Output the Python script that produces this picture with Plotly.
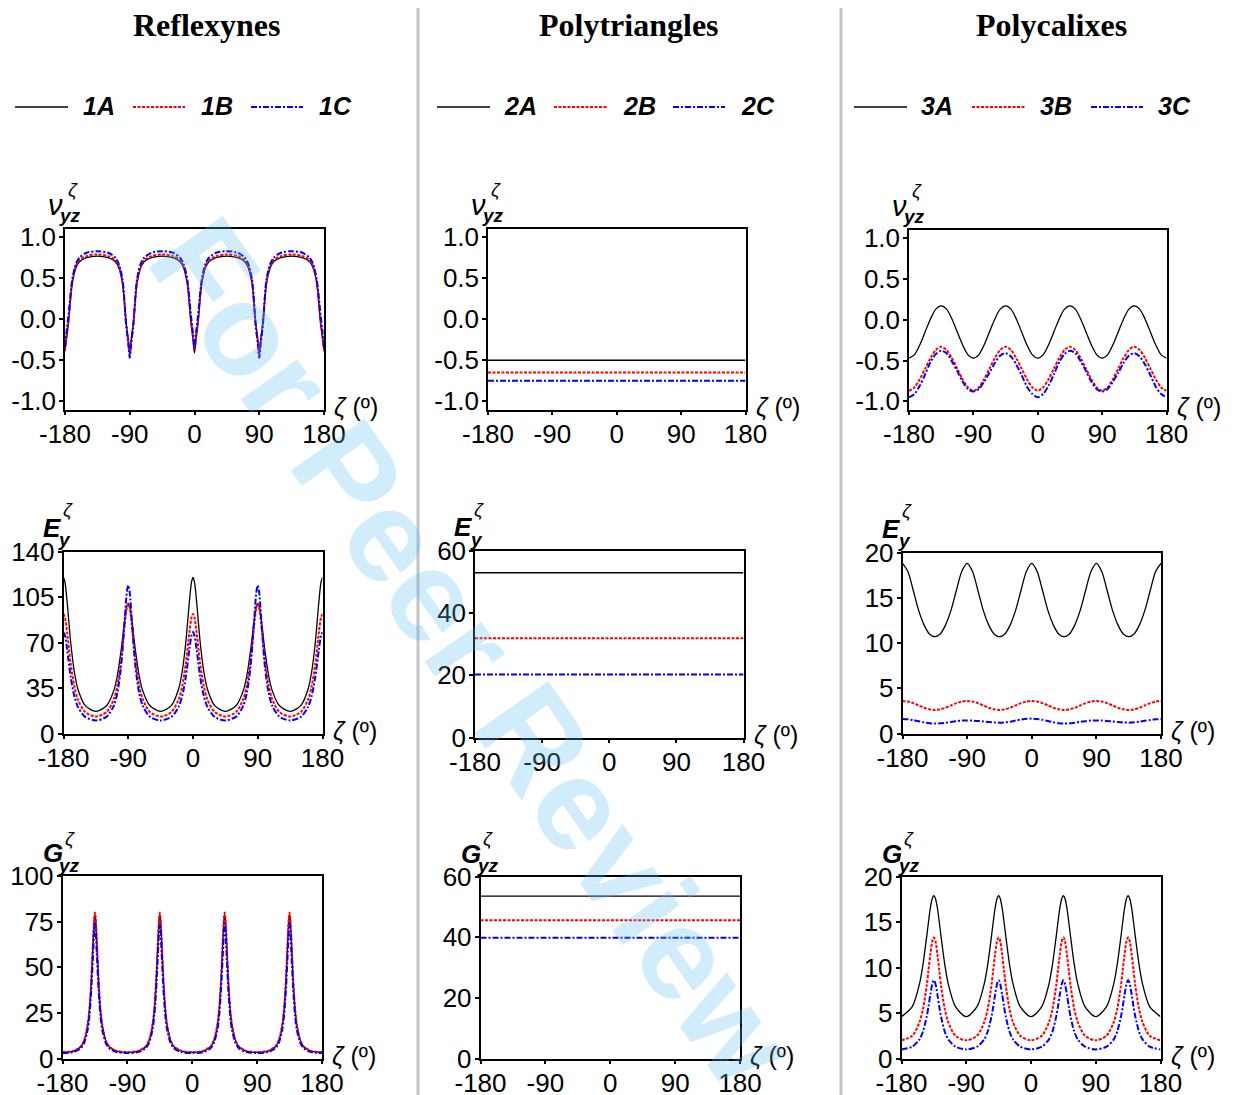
import plotly.graph_objects as go

W, H = 1236, 1095
OFF = 8  # browser body margin

# ---------------- data ----------------
ZETA_A = [-180, -178, -175, -170, -165, -160, -150, -135, -120, -110, -105, -100, -95, -92,
          -90, -88, -85, -80, -75, -70, -60, -45, -30, -20, -15, -10, -5, -2,
          0, 2, 5, 10, 15, 20, 30, 45, 60, 70, 75, 80, 85, 88,
          90, 92, 95, 100, 105, 110, 120, 135, 150, 160, 165, 170, 175, 178, 180]

ZETA_B = [-180, -165, -155, -150, -145, -142.5, -140, -137.5, -136, -135, -134, -132.5, -130, -127.5, -125, -120, -115, -105,
          -90, -75, -65, -60, -55, -52.5, -50, -47.5, -46, -45, -44, -42.5, -40, -37.5, -35, -30, -25, -15,
          0, 15, 25, 30, 35, 37.5, 40, 42.5, 44, 45, 46, 47.5, 50, 52.5, 55, 60, 65, 75,
          90, 105, 115, 120, 125, 127.5, 130, 132.5, 134, 135, 136, 137.5, 140, 142.5, 145, 150, 155, 165, 180]

ZETA_C = [-180, -172.5, -165, -157.5, -150, -142.5, -135, -127.5, -120, -112.5, -105, -97.5,
          -90, -82.5, -75, -67.5, -60, -52.5, -45, -37.5, -30, -22.5, -15, -7.5,
          0, 7.5, 15, 22.5, 30, 37.5, 45, 52.5, 60, 67.5, 75, 82.5,
          90, 97.5, 105, 112.5, 120, 127.5, 135, 142.5, 150, 157.5, 165, 172.5, 180]

ZETA_M = [-180, 180]

X_TICKS = [-180, -90, 0, 90, 180]
X_TICK_TEXT = ["-180", "-90", "0", "90", "180"]

COLUMN_TITLES = ["Reflexynes", "Polytriangles", "Polycalixes"]
SERIES_NAMES = [["1A", "1B", "1C"], ["2A", "2B", "2C"], ["3A", "3B", "3C"]]

# Reflexynes
V_1A = [-0.39, -0.24, -0.03, 0.43, 0.62, 0.70, 0.75, 0.77, 0.75, 0.70, 0.62, 0.43, -0.04, -0.25,
        -0.41, -0.25, -0.04, 0.43, 0.62, 0.70, 0.75, 0.77, 0.75, 0.70, 0.62, 0.43, -0.04, -0.25,
        -0.41, -0.25, -0.04, 0.43, 0.62, 0.70, 0.75, 0.77, 0.75, 0.70, 0.62, 0.43, -0.04, -0.25,
        -0.41, -0.25, -0.04, 0.43, 0.62, 0.70, 0.75, 0.77, 0.75, 0.70, 0.62, 0.43, -0.03, -0.24, -0.39]
V_1B = [-0.38, -0.22, -0.01, 0.45, 0.64, 0.72, 0.77, 0.79, 0.77, 0.72, 0.64, 0.45, -0.06, -0.27,
        -0.43, -0.27, -0.06, 0.45, 0.64, 0.72, 0.77, 0.79, 0.77, 0.72, 0.64, 0.45, -0.01, -0.22,
        -0.38, -0.22, -0.01, 0.45, 0.64, 0.72, 0.77, 0.79, 0.77, 0.72, 0.64, 0.45, -0.06, -0.27,
        -0.43, -0.27, -0.06, 0.45, 0.64, 0.72, 0.77, 0.79, 0.77, 0.72, 0.64, 0.45, -0.01, -0.22, -0.38]
V_1C = [-0.33, -0.16, 0.07, 0.48, 0.67, 0.75, 0.81, 0.83, 0.81, 0.75, 0.67, 0.48, -0.07, -0.30,
        -0.47, -0.30, -0.07, 0.48, 0.67, 0.75, 0.81, 0.83, 0.81, 0.75, 0.67, 0.48, 0.05, -0.18,
        -0.35, -0.18, 0.05, 0.48, 0.67, 0.75, 0.81, 0.83, 0.81, 0.75, 0.67, 0.48, -0.07, -0.30,
        -0.47, -0.30, -0.07, 0.48, 0.67, 0.75, 0.81, 0.83, 0.81, 0.75, 0.67, 0.48, 0.07, -0.16, -0.33]

E_1A = [120, 116.6, 101.5, 70.2, 47.7, 34.2, 21.6, 17.0, 21.5, 33.2, 45.0, 63.7, 87.2, 97.7,
        100, 97.7, 87.2, 63.7, 45.0, 33.2, 21.5, 17.0, 21.6, 34.2, 47.7, 70.2, 101.5, 116.6,
        120, 116.6, 101.5, 70.2, 47.7, 34.2, 21.6, 17.0, 21.5, 33.2, 45.0, 63.7, 87.2, 97.7,
        100, 97.7, 87.2, 63.7, 45.0, 33.2, 21.5, 17.0, 21.6, 34.2, 47.7, 70.2, 101.5, 116.6, 120]
E_1B = [92, 89.4, 77.8, 53.8, 36.5, 26.2, 16.6, 13.0, 16.6, 26.6, 37.4, 56.1, 83.2, 96.8,
        100, 96.8, 83.2, 56.1, 37.4, 26.6, 16.6, 13.0, 16.6, 26.2, 36.5, 53.8, 77.8, 89.4,
        92, 89.4, 77.8, 53.8, 36.5, 26.2, 16.6, 13.0, 16.6, 26.6, 37.4, 56.1, 83.2, 96.8,
        100, 96.8, 83.2, 56.1, 37.4, 26.6, 16.6, 13.0, 16.6, 26.2, 36.5, 53.8, 77.8, 89.4, 92]
E_1C = [78, 75.5, 64.7, 43.4, 28.9, 20.5, 12.8, 10.0, 13.0, 21.5, 31.7, 51.4, 86.8, 108.5,
        114, 108.5, 86.8, 51.4, 31.7, 21.5, 13.0, 10.0, 12.8, 20.5, 28.9, 43.4, 64.7, 75.5,
        78, 75.5, 64.7, 43.4, 28.9, 20.5, 12.8, 10.0, 13.0, 21.5, 31.7, 51.4, 86.8, 108.5,
        114, 108.5, 86.8, 51.4, 31.7, 21.5, 13.0, 10.0, 12.8, 20.5, 28.9, 43.4, 64.7, 75.5, 78]

G_1A = [3.4, 4.1, 6.3, 9.8, 18.5, 27.5, 43, 65, 76, 79, 76, 65, 43, 27.5, 18.5, 9.8, 6.3, 4.1,
        3.4, 4.1, 6.3, 9.8, 18.5, 27.5, 43, 65, 76, 79, 76, 65, 43, 27.5, 18.5, 9.8, 6.3, 4.1,
        3.4, 4.1, 6.3, 9.8, 18.5, 27.5, 43, 65, 76, 79, 76, 65, 43, 27.5, 18.5, 9.8, 6.3, 4.1,
        3.4, 4.1, 6.3, 9.8, 18.5, 27.5, 43, 65, 76, 79, 76, 65, 43, 27.5, 18.5, 9.8, 6.3, 4.1, 3.4]
G_1B = [3.5, 4.2, 6.5, 10, 19, 28, 44, 66, 77, 80, 77, 66, 44, 28, 19, 10, 6.5, 4.2,
        3.5, 4.2, 6.5, 10, 19, 28, 44, 66, 77, 80, 77, 66, 44, 28, 19, 10, 6.5, 4.2,
        3.5, 4.2, 6.5, 10, 19, 28, 44, 66, 77, 80, 77, 66, 44, 28, 19, 10, 6.5, 4.2,
        3.5, 4.2, 6.5, 10, 19, 28, 44, 66, 77, 80, 77, 66, 44, 28, 19, 10, 6.5, 4.2, 3.5]
G_1C = [3.0, 3.5, 5.5, 8.5, 16, 24, 38, 58, 70, 74, 70, 58, 38, 24, 16, 8.5, 5.5, 3.5,
        3.0, 3.5, 5.5, 8.5, 16, 24, 38, 58, 70, 74, 70, 58, 38, 24, 16, 8.5, 5.5, 3.5,
        3.0, 3.5, 5.5, 8.5, 16, 24, 38, 58, 70, 74, 70, 58, 38, 24, 16, 8.5, 5.5, 3.5,
        3.0, 3.5, 5.5, 8.5, 16, 24, 38, 58, 70, 74, 70, 58, 38, 24, 16, 8.5, 5.5, 3.5, 3.0]

# Polytriangles (flat)
V_2A = [-0.50, -0.50]
V_2B = [-0.65, -0.65]
V_2C = [-0.75, -0.75]
E_2A = [53.0, 53.0]
E_2B = [31.9, 31.9]
E_2C = [20.3, 20.3]
G_2A = [53.5, 53.5]
G_2B = [45.6, 45.6]
G_2C = [39.8, 39.8]

# Polycalixes
V_3A = [-0.47, -0.43, -0.31, -0.15, 0.01, 0.13, 0.17, 0.13, 0.01, -0.15, -0.31, -0.43,
        -0.47, -0.43, -0.31, -0.15, 0.01, 0.13, 0.17, 0.13, 0.01, -0.15, -0.31, -0.43,
        -0.47, -0.43, -0.31, -0.15, 0.01, 0.13, 0.17, 0.13, 0.01, -0.15, -0.31, -0.43,
        -0.47, -0.43, -0.31, -0.15, 0.01, 0.13, 0.17, 0.13, 0.01, -0.15, -0.31, -0.43, -0.47]
V_3B = [-0.87, -0.83, -0.73, -0.60, -0.47, -0.37, -0.33, -0.37, -0.47, -0.60, -0.73, -0.83,
        -0.87, -0.83, -0.73, -0.60, -0.47, -0.37, -0.33, -0.37, -0.47, -0.60, -0.73, -0.83,
        -0.87, -0.83, -0.73, -0.60, -0.47, -0.37, -0.33, -0.37, -0.47, -0.60, -0.73, -0.83,
        -0.87, -0.83, -0.73, -0.60, -0.47, -0.37, -0.33, -0.37, -0.47, -0.60, -0.73, -0.83, -0.87]
V_3C = [-0.95, -0.91, -0.81, -0.67, -0.52, -0.42, -0.38, -0.41, -0.51, -0.63, -0.76, -0.85,
        -0.88, -0.85, -0.76, -0.65, -0.53, -0.44, -0.41, -0.45, -0.55, -0.68, -0.82, -0.91,
        -0.95, -0.91, -0.81, -0.67, -0.52, -0.42, -0.38, -0.41, -0.51, -0.63, -0.76, -0.85,
        -0.88, -0.85, -0.76, -0.65, -0.53, -0.44, -0.41, -0.45, -0.55, -0.68, -0.82, -0.91, -0.95]

E_3A = [18.8, 17.9, 15.8, 13.6, 12.0, 11.0, 10.7, 11.0, 12.0, 13.6, 15.8, 17.9,
        18.8, 17.9, 15.8, 13.6, 12.0, 11.0, 10.7, 11.0, 12.0, 13.6, 15.8, 17.9,
        18.8, 17.9, 15.8, 13.6, 12.0, 11.0, 10.7, 11.0, 12.0, 13.6, 15.8, 17.9,
        18.8, 17.9, 15.8, 13.6, 12.0, 11.0, 10.7, 11.0, 12.0, 13.6, 15.8, 17.9, 18.8]
E_3B = [3.6, 3.53, 3.35, 3.1, 2.85, 2.67, 2.6, 2.67, 2.85, 3.1, 3.35, 3.53,
        3.6, 3.53, 3.35, 3.1, 2.85, 2.67, 2.6, 2.67, 2.85, 3.1, 3.35, 3.53,
        3.6, 3.53, 3.35, 3.1, 2.85, 2.67, 2.6, 2.67, 2.85, 3.1, 3.35, 3.53,
        3.6, 3.53, 3.35, 3.1, 2.85, 2.67, 2.6, 2.67, 2.85, 3.1, 3.35, 3.53, 3.6]
E_3C = [1.6, 1.57, 1.48, 1.35, 1.23, 1.13, 1.1, 1.12, 1.19, 1.28, 1.36, 1.43,
        1.45, 1.43, 1.39, 1.33, 1.26, 1.22, 1.2, 1.23, 1.31, 1.43, 1.54, 1.62,
        1.65, 1.61, 1.51, 1.38, 1.24, 1.14, 1.1, 1.12, 1.19, 1.28, 1.36, 1.43,
        1.45, 1.43, 1.39, 1.33, 1.26, 1.22, 1.2, 1.23, 1.3, 1.4, 1.5, 1.57, 1.6]

G_3A = [4.6, 5.7, 8.2, 10.4, 13.4, 15.0, 16.5, 17.5, 17.8, 17.9, 17.8, 17.5, 16.5, 15.0, 13.4, 10.4, 8.2, 5.7,
        4.6, 5.7, 8.2, 10.4, 13.4, 15.0, 16.5, 17.5, 17.8, 17.9, 17.8, 17.5, 16.5, 15.0, 13.4, 10.4, 8.2, 5.7,
        4.6, 5.7, 8.2, 10.4, 13.4, 15.0, 16.5, 17.5, 17.8, 17.9, 17.8, 17.5, 16.5, 15.0, 13.4, 10.4, 8.2, 5.7,
        4.6, 5.7, 8.2, 10.4, 13.4, 15.0, 16.5, 17.5, 17.8, 17.9, 17.8, 17.5, 16.5, 15.0, 13.4, 10.4, 8.2, 5.7, 4.6]
G_3B = [2.0, 2.5, 4.0, 5.5, 8.0, 9.7, 11.4, 12.8, 13.2, 13.3, 13.2, 12.8, 11.4, 9.7, 8.0, 5.5, 4.0, 2.5,
        2.0, 2.5, 4.0, 5.5, 8.0, 9.7, 11.4, 12.8, 13.2, 13.3, 13.2, 12.8, 11.4, 9.7, 8.0, 5.5, 4.0, 2.5,
        2.0, 2.5, 4.0, 5.5, 8.0, 9.7, 11.4, 12.8, 13.2, 13.3, 13.2, 12.8, 11.4, 9.7, 8.0, 5.5, 4.0, 2.5,
        2.0, 2.5, 4.0, 5.5, 8.0, 9.7, 11.4, 12.8, 13.2, 13.3, 13.2, 12.8, 11.4, 9.7, 8.0, 5.5, 4.0, 2.5, 2.0]
G_3C = [1.0, 1.3, 2.1, 3.0, 4.6, 5.7, 7.0, 8.1, 8.5, 8.6, 8.5, 8.1, 7.0, 5.7, 4.6, 3.0, 2.1, 1.3,
        1.0, 1.3, 2.1, 3.0, 4.6, 5.7, 7.0, 8.1, 8.5, 8.6, 8.5, 8.1, 7.0, 5.7, 4.6, 3.0, 2.1, 1.3,
        1.0, 1.3, 2.1, 3.0, 4.6, 5.7, 7.0, 8.1, 8.5, 8.6, 8.5, 8.1, 7.0, 5.7, 4.6, 3.0, 2.1, 1.3,
        1.0, 1.3, 2.1, 3.0, 4.6, 5.7, 7.0, 8.1, 8.5, 8.6, 8.5, 8.1, 7.0, 5.7, 4.6, 3.0, 2.1, 1.3, 1.0]

Y_TICKS_V = [-1.0, -0.5, 0.0, 0.5, 1.0]
Y_TEXT_V = ["-1.0", "-0.5", "0.0", "0.5", "1.0"]
Y_TICKS_E1 = [0, 35, 70, 105, 140]
Y_TICKS_G1 = [0, 25, 50, 75, 100]
Y_TICKS_60 = [0, 20, 40, 60]
Y_TICKS_20 = [0, 5, 10, 15, 20]

# ---------------- styling ----------------
FONT = "Arial, 'Liberation Sans', sans-serif"
SERIF = "'Times New Roman', 'Liberation Serif', serif"
STYLES = [dict(color="black", width=1.3, dash="solid"),
          dict(color="#ff0000", width=2.0, dash="3px,1.5px"),
          dict(color="#0000ff", width=2.0, dash="6px,2px,2px,2px")]

# panel boxes in page pixels: left, right, top, bottom
PANELS = [
    dict(box=(65, 324, 229, 409.5), yr=[-1.1, 1.1], yt=Y_TICKS_V, ytt=Y_TEXT_V, kind="V", row=0,
         x=ZETA_A, ys=[V_1A, V_1B, V_1C], shape="spline"),
    dict(box=(63.5, 322.5, 551.5, 733.5), yr=[0, 140], yt=Y_TICKS_E1, ytt=None, kind="E", row=1,
         x=ZETA_A, ys=[E_1A, E_1B, E_1C], shape="spline"),
    dict(box=(62.5, 322, 876, 1058.5), yr=[0, 100], yt=Y_TICKS_G1, ytt=None, kind="G", row=2,
         x=ZETA_B, ys=[G_1A, G_1B, G_1C], shape="spline"),
    dict(box=(488, 745.5, 229, 409.5), yr=[-1.1, 1.1], yt=Y_TICKS_V, ytt=Y_TEXT_V, kind="V", row=0,
         x=ZETA_M, ys=[V_2A, V_2B, V_2C], shape="linear"),
    dict(box=(475, 743.5, 551, 737.5), yr=[0, 60], yt=Y_TICKS_60, ytt=None, kind="E", row=1,
         x=ZETA_M, ys=[E_2A, E_2B, E_2C], shape="linear"),
    dict(box=(480.5, 740, 876.5, 1058.5), yr=[0, 60], yt=Y_TICKS_60, ytt=None, kind="G", row=2,
         x=ZETA_M, ys=[G_2A, G_2B, G_2C], shape="linear"),
    dict(box=(909, 1166.5, 230, 409.5), yr=[-1.1, 1.1], yt=Y_TICKS_V, ytt=Y_TEXT_V, kind="V", row=0,
         x=ZETA_C, ys=[V_3A, V_3B, V_3C], shape="spline"),
    dict(box=(902.5, 1161, 552.5, 733.5), yr=[0, 20], yt=Y_TICKS_20, ytt=None, kind="E", row=1,
         x=ZETA_C, ys=[E_3A, E_3B, E_3C], shape="spline"),
    dict(box=(901.5, 1160.5, 876.5, 1058.5), yr=[0, 20], yt=Y_TICKS_20, ytt=None, kind="G", row=2,
         x=ZETA_B, ys=[G_3A, G_3B, G_3C], shape="spline"),
]

FW, FH = W - OFF, H - OFF

def px(x):
    return (x - OFF) / FW

def py(y):
    return 1 - (y - OFF) / FH

fig = go.Figure()
annotations = []
shapes = []
layout = {}

LABEL_MAIN = {"V": ("<i>ν</i>", 29), "E": ("<b><i>E</i></b>", 26), "G": ("<b><i>G</i></b>", 26)}
LABEL_SUB = {"V": "<b><i>yz</i></b>", "E": "<b><i>y</i></b>", "G": "<b><i>yz</i></b>"}
# offsets (dx main, dy main, dx sub, dy sub, dx sup, dy sup) per row
LABEL_OFF = [(-19, -24, -8, -14, 1, -39),
             (-23, -24, -7, -12, -3, -42),
             (-22, -23, -6, -11, 0, -38)]

for i, p in enumerate(PANELS):
    l, r, t, b = p["box"]
    sfx = "" if i == 0 else str(i + 1)
    layout["xaxis" + sfx] = dict(
        domain=[px(l), px(r)], range=[-180, 180], anchor="y" + sfx, automargin=False,
        tickmode="array", tickvals=X_TICKS, ticktext=X_TICK_TEXT,
        showline=True, linecolor="black", linewidth=1.5, mirror=True,
        ticks="outside", ticklen=4, tickwidth=1.5, tickcolor="black",
        ticklabelstandoff=-3,
        showgrid=False, zeroline=False,
        tickfont=dict(family=FONT, size=26, color="black"))
    layout["yaxis" + sfx] = dict(
        domain=[py(b), py(t)], range=p["yr"], anchor="x" + sfx, automargin=False,
        tickmode="array", tickvals=p["yt"],
        ticktext=p["ytt"] if p["ytt"] else [str(v) for v in p["yt"]],
        showline=True, linecolor="black", linewidth=1.5, mirror=True,
        ticks="outside", ticklen=4, tickwidth=1.5, tickcolor="black",
        ticklabelstandoff=-2,
        showgrid=False, zeroline=False,
        tickfont=dict(family=FONT, size=26, color="black"))
    for k, yv in enumerate(p["ys"]):
        st = STYLES[k]
        fig.add_trace(go.Scatter(
            x=p["x"], y=yv, mode="lines", xaxis="x" + sfx, yaxis="y" + sfx,
            line=dict(color=st["color"], width=st["width"], dash=st["dash"],
                      shape=p["shape"], smoothing=0.8 if p["shape"] == "spline" else None),
            showlegend=False, hoverinfo="skip"))
    # x-axis label
    annotations.append(dict(x=px(r + 8), y=py(b - 3), xref="paper", yref="paper",
                             xanchor="left", yanchor="middle", showarrow=False,
                             text="<i>ζ</i> (º)", font=dict(family=FONT, size=25, color="black")))
    # y-axis label
    dxm, dym, dxs, dys, dxp, dyp = LABEL_OFF[p["row"]]
    mtxt, msize = LABEL_MAIN[p["kind"]]
    annotations.append(dict(x=px(l + dxm), y=py(t + dym), xref="paper", yref="paper",
                            xanchor="left", yanchor="middle", showarrow=False,
                            text=mtxt, font=dict(family=FONT, size=msize, color="black")))
    annotations.append(dict(x=px(l + dxs), y=py(t + dys), xref="paper", yref="paper",
                            xanchor="left", yanchor="middle", showarrow=False,
                            text=LABEL_SUB[p["kind"]], font=dict(family=FONT, size=19, color="black")))
    annotations.append(dict(x=px(l + dxp), y=py(t + dyp), xref="paper", yref="paper",
                            xanchor="left", yanchor="middle", showarrow=False,
                            text="<i>ζ</i>", font=dict(family=FONT, size=19, color="black")))

# column titles
TITLE_X = [207, 629, 1051]
for cx, title in zip(TITLE_X, COLUMN_TITLES):
    annotations.append(dict(x=px(cx), y=py(25), xref="paper", yref="paper",
                            xanchor="center", yanchor="middle", showarrow=False,
                            text="<b>" + title + "</b>",
                            font=dict(family=SERIF, size=32, color="black")))

# legends (line samples + labels)
LEG_X = [[(15, 68, 81), (133, 185, 199), (251, 303, 317)],
         [(437, 490, 502), (554, 607, 621), (673, 725, 739)],
         [(854, 907, 919), (972, 1025, 1038), (1091, 1143, 1156)]]
LEG_Y = 107
for c in range(3):
    for k in range(3):
        x0, x1, xt = LEG_X[c][k]
        st = STYLES[k]
        shapes.append(dict(type="line", xref="paper", yref="paper",
                           x0=px(x0), x1=px(x1), y0=py(LEG_Y), y1=py(LEG_Y),
                           line=dict(color=st["color"], width=st["width"], dash=st["dash"])))
        annotations.append(dict(x=px(xt), y=py(LEG_Y - 1), xref="paper", yref="paper",
                                xanchor="left", yanchor="middle", showarrow=False,
                                text="<b><i>" + SERIES_NAMES[c][k] + "</i></b>",
                                font=dict(family=FONT, size=25, color="black")))

# column separators
for sx in [418, 841]:
    shapes.append(dict(type="line", xref="paper", yref="paper",
                       x0=px(sx), x1=px(sx), y0=1, y1=0,
                       line=dict(color="#c4c4c4", width=3)))

# watermark
annotations.append(dict(x=px(474), y=py(652), xref="paper", yref="paper",
                        xanchor="center", yanchor="middle", showarrow=False,
                        text="<b>For Peer Review</b>", textangle=55,
                        font=dict(family=FONT, size=131, color="rgba(90,185,240,0.28)")))

fig.update_layout(
    template="none",
    width=FW, height=FH, margin=dict(l=0, r=0, t=0, b=0, autoexpand=False),
    paper_bgcolor="white", plot_bgcolor="rgba(0,0,0,0)",
    showlegend=False, annotations=annotations, shapes=shapes, **layout)

fig.write_html("out.html")
